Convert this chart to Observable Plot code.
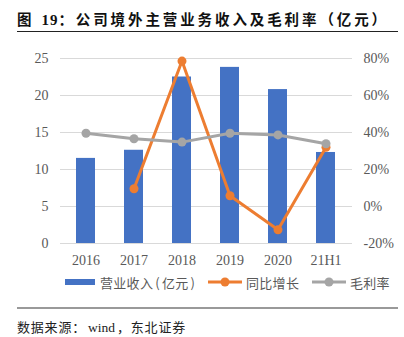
<!DOCTYPE html>
<html><head><meta charset="utf-8">
<script src="https://cdn.jsdelivr.net/npm/d3@7"></script>
<script src="https://cdn.jsdelivr.net/npm/@observablehq/plot@0.6"></script>
<style>
html,body{margin:0;padding:0;background:#fff;}
body{width:404px;height:337px;position:relative;overflow:hidden;font-family:"Noto Sans CJK SC",sans-serif;}
#title{position:absolute;left:17px;top:9px;font-size:14.5px;line-height:20px;font-weight:bold;color:#111;white-space:nowrap;letter-spacing:2.9px;}
#title .num{font-family:"Liberation Serif",serif;margin-left:7px;font-size:15px;letter-spacing:1px;}
#rule1{position:absolute;left:17px;top:31px;width:381px;height:0;border-top:1.3px solid #222;}
#chart{position:absolute;left:0;top:40px;}
#legend{position:absolute;left:0;top:273px;width:404px;height:18px;font-size:13px;color:#595959;}
.li{position:absolute;top:0;display:flex;align-items:center;height:18px;white-space:nowrap;letter-spacing:0.3px;}
.p{margin:0 2px;}
#rule2{position:absolute;left:17px;top:307px;width:381px;height:0;border-top:2px solid #999;}
#foot{position:absolute;left:17px;top:318px;font-size:13px;line-height:18px;color:#222;white-space:nowrap;letter-spacing:0.8px;}
#foot .en{font-family:"Liberation Serif",serif;font-size:13.5px;letter-spacing:0;margin:0 2px;}
</style></head><body>
<div id="title">图<span class="num">19</span>：公司境外主营业务收入及毛利率（亿元）</div>
<div id="rule1"></div>
<div id="chart"></div>
<div id="legend"></div>
<div id="rule2"></div>
<div id="foot">数据来源：<span class="en">wind</span>，东北证券</div>
<script>
const categories = ["2016","2017","2018","2019","2020","21H1"];
const revenue = [11.5, 12.6, 22.5, 23.8, 20.8, 12.3];
const growth = [null, 9.6, 78.6, 5.8, -12.6, 32.0];
const margin = [39.6, 36.6, 34.8, 39.6, 38.7, 33.9];
const leftTicks = [0, 5, 10, 15, 20, 25];
const rightTicks = [-20, 0, 20, 40, 60, 80];
const seriesNames = ["营业收入", "同比增长", "毛利率"];
const unitLabel = "亿元";
const colors = ["#4472C4", "#ED7D31", "#A5A5A5"];

// map right-axis percentage onto the left (0-25) scale
const rMin = rightTicks[0], rMax = rightTicks[rightTicks.length-1];
const lMax = leftTicks[leftTicks.length-1];
const toLeft = p => (p - rMin) / (rMax - rMin) * lMax;
const fromLeft = v => Math.round(v / lMax * (rMax - rMin) + rMin);

const rows = categories.map((c,i) => ({cat:c, rev:revenue[i], g:growth[i], m:margin[i]}));
const gRows = rows.filter(d => d.g != null);

const chart = Plot.plot({
  width: 404, height: 230,
  marginLeft: 60, marginRight: 52, marginTop: 18, marginBottom: 27,
  x: {domain: categories, paddingInner: 0.6, paddingOuter: 0.3, axis: null},
  y: {domain: [0, lMax], axis: null},
  style: {fontFamily: "'Liberation Serif', serif", fontSize: "14px", color: "#595959", background: "transparent"},
  marks: [
    Plot.gridY(leftTicks, {stroke: "#d9d9d9", strokeOpacity: 1, strokeWidth: 1}),
    Plot.axisY(leftTicks, {anchor: "left", tickSize: 0, tickPadding: 12, label: null, tickFormat: d => d}),
    Plot.axisY(leftTicks, {anchor: "right", tickSize: 0, tickPadding: 11, label: null, tickFormat: v => fromLeft(v) + "%"}),
    Plot.axisX({tickSize: 0, tickPadding: 12, label: null}),
    Plot.barY(rows, {x: "cat", y: "rev", fill: colors[0]}),
    Plot.line(gRows, {x: "cat", y: d => toLeft(d.g), stroke: colors[1], strokeWidth: 3}),
    Plot.dot(gRows, {x: "cat", y: d => toLeft(d.g), r: 4.5, fill: colors[1], stroke: null}),
    Plot.line(rows, {x: "cat", y: d => toLeft(d.m), stroke: colors[2], strokeWidth: 3}),
    Plot.dot(rows, {x: "cat", y: d => toLeft(d.m), r: 4.5, fill: colors[2], stroke: null})
  ]
});
document.getElementById("chart").appendChild(chart);

// legend
const legend = document.getElementById("legend");
const pos = [65, 208, 312];
seriesNames.forEach((name, i) => {
  const item = document.createElement("div");
  item.className = "li";
  item.style.left = pos[i] + "px";
  let sw, label;
  if (i === 0) {
    sw = `<svg width="31" height="18"><rect x="0" y="6" width="30" height="6" fill="${colors[0]}"/></svg>`;
    label = `${name}<span class="p">(</span>${unitLabel}<span class="p">)</span>`;
  } else {
    sw = `<svg width="34" height="18"><line x1="0" x2="34" y1="9" y2="9" stroke="${colors[i]}" stroke-width="3"/><circle cx="17" cy="9" r="4.5" fill="${colors[i]}"/></svg>`;
    label = name;
  }
  item.innerHTML = sw + `<span style="margin-left:4px">${label}</span>`;
  legend.appendChild(item);
});
</script>
</body></html>
